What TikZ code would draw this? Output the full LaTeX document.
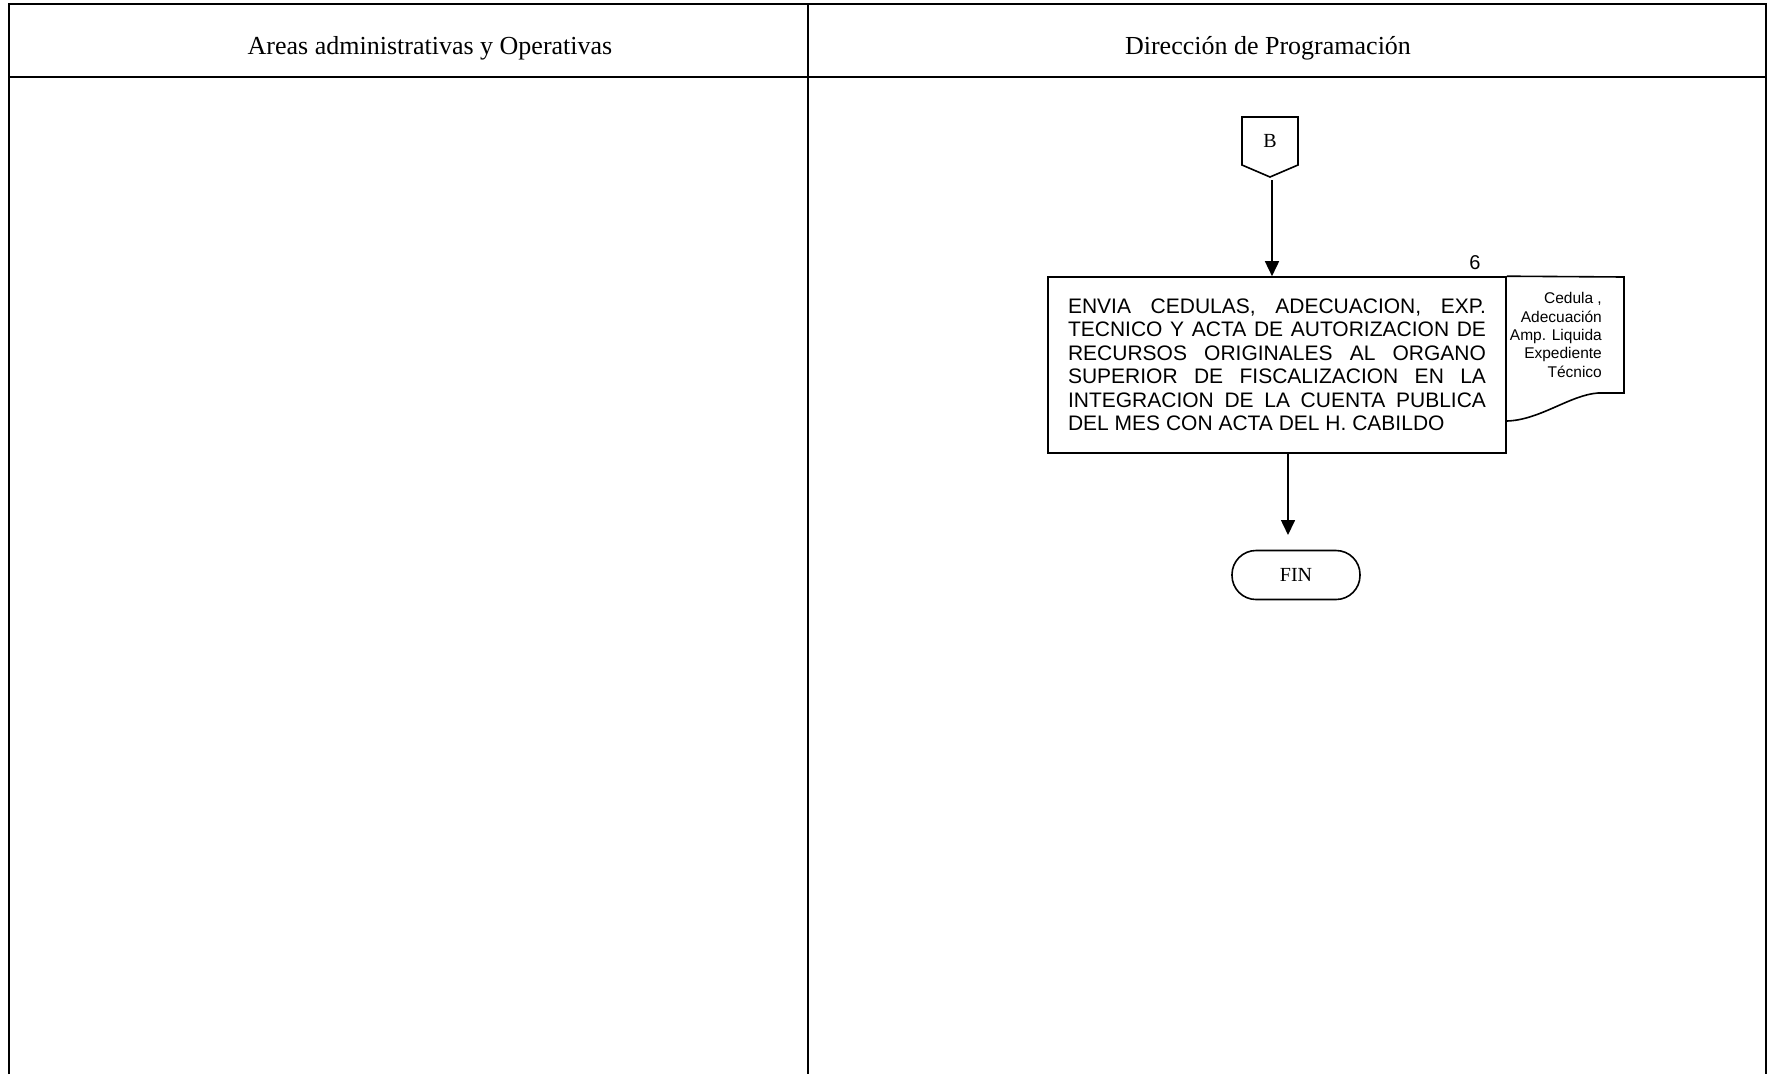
\documentclass[tikz,border=0pt]{standalone}
\usepackage{fontspec}
\setmainfont{Liberation Serif}
\newfontfamily\arialfam{Liberation Sans}
\usepackage{tikz}
\usetikzlibrary{arrows, arrows.meta}
\usetikzlibrary{positioning}
\usetikzlibrary{calc}

\tikzset{
	linea/.style={line width=1.6pt},
	flecha/.style={line width=1.6pt, -{Triangle[length=15pt,width=14pt]}},
	carril/.style={font=\fontsize{26}{30}\selectfont, inner sep=0pt, anchor=base},
	proceso/.style={draw, line width=1.6pt, minimum width=458pt, minimum height=176pt, text width=418pt, align=justify, inner sep=0pt, font=\arialfam\fontsize{21}{23.5}\selectfont},
	terminal/.style={draw, line width=1.6pt, rounded corners=24pt, minimum width=128pt, minimum height=49pt, font=\fontsize{20}{24}\selectfont},
}

\begin{document}
\begin{tikzpicture}[x=1pt, y=-1pt]
	\useasboundingbox (0,0) rectangle (1769,1074);
	% carriles
	\draw[linea] (9,1074) -- (9,4) -- (1766,4) -- (1766,1074);
	\draw[linea] (9,77) -- (1766,77);
	\draw[linea] (808,4) -- (808,1074);
	\node[carril] (carril1) at (430,54) {Areas administrativas y Operativas};
	\node[carril] (carril2) at (1268,54) {Dirección de Programación};
	% conector B
	\node[font=\fontsize{20}{24}\selectfont] (conB) at (1270,141) {B};
	\draw[linea, line join=miter] (1242,117) -- (1298,117) -- (1298,165) -- (1270,177) -- (1242,165) -- cycle;
	\coordinate (bsal) at (1272,180);
	% paso 6
	\node[proceso] (paso6) at (1277,365) {ENVIA CEDULAS, ADECUACION, EXP.\linebreak TECNICO Y ACTA DE AUTORIZACION DE\linebreak RECURSOS ORIGINALES AL ORGANO\linebreak SUPERIOR DE FISCALIZACION EN LA\linebreak INTEGRACION DE LA CUENTA PUBLICA\linebreak DEL MES CON ACTA DEL H. CABILDO};
	\node[font=\arialfam\fontsize{20}{24}\selectfont] (num6) at (1475,263) {6};
	% documento
	\draw[linea] (paso6.north east) -- (1624,277) -- (1624,393) -- (1598,393) .. controls (1570,395) and (1540,420) .. (1507,421);
	\node[font=\arialfam\fontsize{15.5}{18.3}\selectfont, align=right, inner sep=0pt, anchor=east] (docu) at (1602,335) {Cedula ,\\Adecuación\\Amp. Liquida\\Expediente\\Técnico};
	% fin
	\node[terminal] (fin) at (1296,575) {FIN};
	\coordinate (finarr) at (1288,535);
	\draw[flecha] (bsal) -- (bsal |- paso6.north);
	\draw[flecha] (paso6.south -| finarr) -- (finarr);
\end{tikzpicture}
\end{document}
